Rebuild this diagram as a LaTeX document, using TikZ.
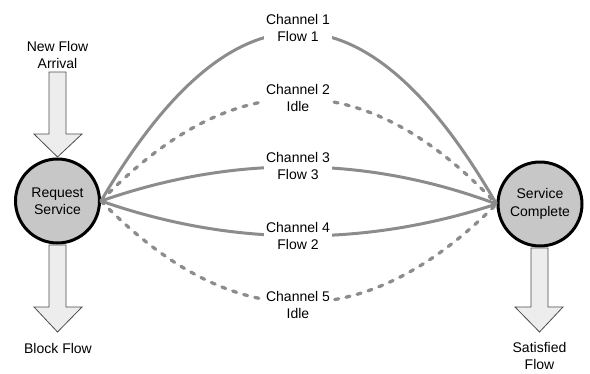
\documentclass[tikz,border=0pt]{standalone}
\usepackage{fontspec}
\setmainfont{Liberation Sans}
\begin{document}
\begin{tikzpicture}[x=1pt,y=-1pt,
  txt/.style={font=\fontsize{14}{17.5}\selectfont,align=center,inner sep=1pt},
  lbl/.style={txt,fill=white,inner xsep=2pt,inner ysep=0pt},
  state/.style={circle,draw=black,line width=3pt,fill=black!22,minimum size=84pt,inner sep=0pt,txt},
  chan/.style={draw=black!45,line width=3pt},
  idle/.style={chan,line width=3.3pt,line cap=round,dash pattern=on 4pt off 7.5pt},
  blockarrow/.style={draw=black!70,line width=0.8pt,fill=black!7}]
\useasboundingbox (0,0) rectangle (590,373);
\node[state] (L) at (57.5,201) {Request\\Service};
\node[state] (R) at (540,204) {Service\\Complete};
% channels
\draw[chan] (L.east) .. controls (233,-24) and (365,-24) .. (R.west);
\draw[idle] (L.east) .. controls (233,64) and (365,64) .. (R.west);
\draw[chan] (L.east) .. controls (233,155) and (365,155) .. (R.west);
\draw[chan] (L.east) .. controls (233,247) and (365,247) .. (R.west);
\draw[idle] (L.east) .. controls (233,336) and (365,336) .. (R.west);
\node[lbl] (c1) at (298,28) {Channel 1\\Flow 1};
\node[lbl] (c2) at (298,98) {Channel 2\\Idle};
\node[lbl] (c3) at (298,166) {Channel 3\\Flow 3};
\node[lbl] (c4) at (298,236) {Channel 4\\Flow 2};
\node[lbl] (c5) at (298,305) {Channel 5\\Idle};
% block arrows
\draw[blockarrow] (49,72) -- (66,72) -- (66,134) -- (82,134) -- (57.5,157) -- (34,134) -- (49,134) -- cycle;
\draw[blockarrow] (49,245) -- (66,245) -- (66,307) -- (82,307) -- (57.5,332) -- (34,307) -- (49,307) -- cycle;
\draw[blockarrow] (531,248) -- (548,248) -- (548,307) -- (563,307) -- (539.5,332) -- (515,307) -- (531,307) -- cycle;
\node[txt] (nf) at (57.5,55) {New Flow\\Arrival};
\node[txt] (bf) at (58,348) {Block Flow};
\node[txt] (sf) at (539.5,356) {Satisfied\\Flow};
\end{tikzpicture}
\end{document}
